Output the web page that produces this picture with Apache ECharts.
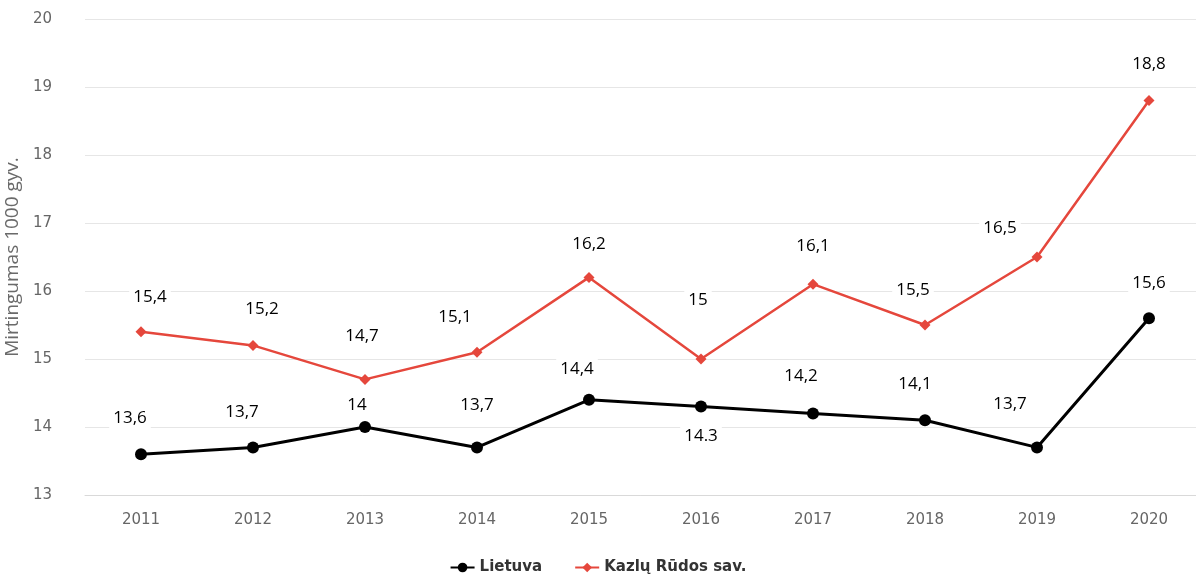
<!DOCTYPE html>
<html><head><meta charset="utf-8">
<script src="https://cdn.jsdelivr.net/npm/echarts@6/dist/echarts.min.js"></script>
<style>html,body{margin:0;padding:0;background:#fff}#c{width:1196px;height:575px}</style>
</head><body><div id="c"></div>
<script>
const years = ['2011','2012','2013','2014','2015','2016','2017','2018','2019','2020'];
const lietuva = [13.6, 13.7, 14.0, 13.7, 14.4, 14.3, 14.2, 14.1, 13.7, 15.6];
const kazlu = [15.4, 15.2, 14.7, 15.1, 16.2, 15.0, 16.1, 15.5, 16.5, 18.8];
const lietuvaLabels = ['13,6','13,7','14','13,7','14,4','14.3','14,2','14,1','13,7','15,6'];
const kazluLabels = ['15,4','15,2','14,7','15,1','16,2','15','16,1','15,5','16,5','18,8'];
const lietuvaOffsets = [[-11,-36],[-11,-35],[-8,-22],[0,-42],[-12,-31],[0,30],[-12,-37],[-10,-36],[-27,-43],[0,-35]];
const kazluOffsets = [[9,-35],[9,-36],[-3,-43],[-22,-35],[0,-33],[-3,-59],[0,-38],[-12,-35],[-37,-29],[0,-36]];
const yTicks = {min: 13, max: 20, interval: 1};

function build(vals, labels, offs) {
  return vals.map((v, i) => ({
    value: v,
    label: { show: true, position: 'inside', offset: offs[i], formatter: labels[i] }
  }));
}
const labelStyle = {
  color: '#000', fontSize: 17, fontFamily: 'Open Sans, sans-serif',
  backgroundColor: '#fff', padding: [2, 4], align: 'center', verticalAlign: 'middle'
};
const chart = echarts.init(document.getElementById('c'));
chart.setOption({
  animation: false,
  grid: { left: 85, top: 19, width: 1120, height: 476, outerBoundsMode: 'none' },
  legend: {
    bottom: -5, left: 'center', itemGap: 32, itemWidth: 24, itemHeight: 12,
    textStyle: { color: '#333', fontSize: 15, fontFamily: 'DejaVu Sans, sans-serif', fontWeight: 'bold' },
    data: ['Lietuva', 'Kazlų Rūdos sav.']
  },
  xAxis: {
    type: 'category', data: years, boundaryGap: true,
    axisLine: { show: true, lineStyle: { color: '#d9d9d9' } },
    axisTick: { show: false },
    axisLabel: { color: '#666', fontSize: 15, margin: 18, fontFamily: 'DejaVu Sans, sans-serif' }
  },
  yAxis: {
    type: 'value', min: yTicks.min, max: yTicks.max, interval: yTicks.interval,
    name: 'Mirtingumas 1000 gyv.', nameLocation: 'middle', nameGap: 63, nameRotate: 90,
    nameTextStyle: { color: '#6a6a6a', fontSize: 19, fontFamily: 'Open Sans, sans-serif' },
    axisLine: { show: false }, axisTick: { show: false },
    axisLabel: { color: '#666', fontSize: 15, margin: 33, fontFamily: 'DejaVu Sans, sans-serif' },
    splitLine: { lineStyle: { color: '#e6e6e6', width: 1 } }
  },
  series: [
    {
      name: 'Lietuva', type: 'line', data: build(lietuva, lietuvaLabels, lietuvaOffsets),
      symbol: 'circle', symbolSize: 12, color: '#000',
      lineStyle: { color: '#000', width: 3 }, itemStyle: { color: '#000' },
      label: labelStyle, z: 3
    },
    {
      name: 'Kazlų Rūdos sav.', type: 'line', data: build(kazlu, kazluLabels, kazluOffsets),
      symbol: 'diamond', symbolSize: 11, color: '#e5473c',
      lineStyle: { color: '#e5473c', width: 2.5 }, itemStyle: { color: '#e5473c' },
      label: labelStyle, z: 2
    }
  ]
});
</script></body></html>
